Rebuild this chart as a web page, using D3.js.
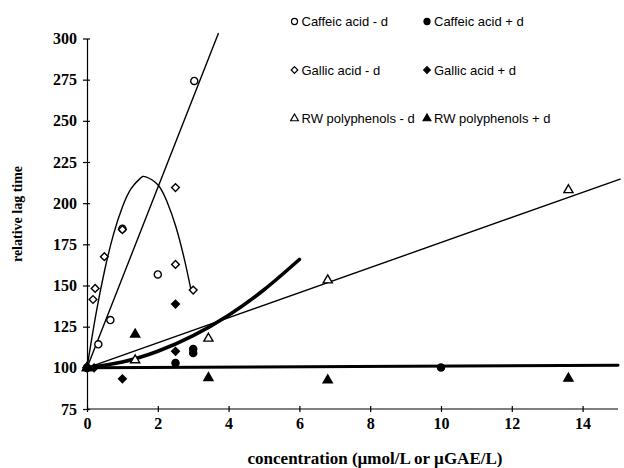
<!DOCTYPE html>
<html><head><meta charset="utf-8">
<script src="https://cdn.jsdelivr.net/npm/d3@7"></script>
<style>body{margin:0;background:#fff}svg{display:block}</style>
</head><body><svg id="c" width="624" height="468"></svg>
<script>
// ---- data ----
const xTicks = [0, 2, 4, 6, 8, 10, 12, 14];
const yTicks = [75, 100, 125, 150, 175, 200, 225, 250, 275, 300];

const caffeicMinusX = [0, 0.32, 0.66, 1.0, 2.0, 3.03];
const caffeicMinusY = [100, 114.3, 129, 184.5, 156.7, 274.2];
const caffeicPlusX = [0, 2.5, 3.0, 3.0, 10];
const caffeicPlusY = [100, 103, 109, 111.5, 100.2];
const gallicMinusX = [0, 0.17, 0.23, 0.49, 1.0, 2.5, 2.5, 3.0];
const gallicMinusY = [100, 141.5, 148.2, 167.5, 184, 209.5, 162.8, 147.2];
const gallicPlusX = [0, 0.2, 1.0, 2.5, 2.5];
const gallicPlusY = [100, 100, 93.3, 110, 138.7];
const rwMinusX = [0, 1.36, 3.43, 6.8, 13.6];
const rwMinusY = [100, 104.7, 117.8, 153.2, 208];
const rwPlusX = [0, 1.36, 3.43, 6.8, 13.6];
const rwPlusY = [100, 120.3, 93.9, 92.5, 93.5];

// fitted curves
const caffeicFitX = [0, 3.71];
const caffeicFitY = [100, 303];
const gallicFitX = [0, 0.25, 0.5, 0.75, 1.0, 1.25, 1.5, 1.66, 2.0, 2.25, 2.5, 2.75, 2.94];
const gallicFitY = [100, 132.3, 159.4, 181.2, 197.7, 209, 215, 216, 211.2, 201.4, 186.4, 166, 147.1];
const thickFitX = [0, 1, 2, 3, 4, 5, 6];
const thickFitY = [100, 103.6, 110.1, 119.6, 132, 147.4, 165.8];
const rwFitX = [0, 15.06];
const rwFitY = [100, 214.6];
const flatFitX = [0, 15];
const flatFitY = [100, 101.5];

const legendLabels = ["Caffeic acid - d", "Caffeic acid + d", "Gallic acid - d", "Gallic acid + d", "RW polyphenols - d", "RW polyphenols + d"];

// ---- drawing ----
const svg = d3.select("#c");
const x = d3.scaleLinear().domain([0, 15]).range([87, 618]);
const y = d3.scaleLinear().domain([75, 300]).range([409, 38.5]);
const serif = "'Liberation Serif','Times New Roman',serif";
const sans = "'Liberation Sans',Arial,sans-serif";

// axes
const xAxis = svg.append("g").attr("transform", `translate(0,${y(75)})`)
  .call(d3.axisBottom(x).tickValues(xTicks).tickSize(3).tickSizeOuter(0).tickFormat(d3.format("d")));
xAxis.selectAll(".tick line").attr("y1", -3).attr("y2", 3);
xAxis.select(".domain").attr("d", `M${x(0)},0H${x(15)}`);
const yAxis = svg.append("g").attr("transform", `translate(${x(0)},0)`)
  .call(d3.axisLeft(y).tickValues(yTicks).tickSize(4).tickSizeOuter(0).tickFormat(d3.format("d")));
yAxis.selectAll(".tick line").attr("x1", 3).attr("x2", -4);
[xAxis, yAxis].forEach(a => {
  a.selectAll(".domain,.tick line").attr("stroke", "#000").attr("stroke-width", 1.2);
  a.selectAll("text").attr("font-family", serif).attr("font-weight", "bold").attr("font-size", 16).attr("fill", "#000");
});
xAxis.selectAll("text").attr("y", 9);
yAxis.selectAll("text").attr("x", -10);

svg.append("text").attr("transform", `translate(22,214) rotate(-90)`).attr("text-anchor", "middle")
  .attr("font-family", serif).attr("font-weight", "bold").attr("font-size", 14).text("relative lag time");
svg.append("text").attr("x", 375).attr("y", 464).attr("text-anchor", "middle")
  .attr("font-family", serif).attr("font-weight", "bold").attr("font-size", 17).text("concentration (\u00b5mol/L or \u00b5GAE/L)");

// fit lines
const line = d3.line().x(d => x(d[0])).y(d => y(d[1]));
function fit(xs, ys, w, curve) {
  svg.append("path").datum(xs.map((v, i) => [v, ys[i]]))
    .attr("d", line.curve(curve || d3.curveLinear))
    .attr("fill", "none").attr("stroke", "#000").attr("stroke-width", w).attr("stroke-linecap", "round");
}
fit(flatFitX, flatFitY, 3);
fit(rwFitX, rwFitY, 1.4);
fit(thickFitX, thickFitY, 3.6, d3.curveNatural);
fit(caffeicFitX, caffeicFitY, 1.4);
fit(gallicFitX, gallicFitY, 1.4, d3.curveNatural);

// markers
const shapes = {
  circle: d3.symbol().type(d3.symbolCircle).size(40),
  diamond: d3.symbol().type(d3.symbolSquare).size(30),
  triangle: d3.symbol().type(d3.symbolTriangle).size(36)
};
function marker(g, shape, filled) {
  g.append("path").attr("d", shapes[shape]())
    .attr("transform", shape === "diamond" ? "rotate(45)" : null)
    .attr("fill", filled ? "#000" : "#fff").attr("stroke", "#000").attr("stroke-width", 1.4);
}
function series(xs, ys, shape, filled) {
  xs.forEach((v, i) => {
    const g = svg.append("g").attr("transform", `translate(${x(v)},${y(ys[i])})`);
    marker(g, shape, filled);
  });
}
series(caffeicMinusX, caffeicMinusY, "circle", false);
series(gallicMinusX, gallicMinusY, "diamond", false);
series(rwMinusX, rwMinusY, "triangle", false);
series(caffeicPlusX, caffeicPlusY, "circle", true);
series(gallicPlusX, gallicPlusY, "diamond", true);
series(rwPlusX, rwPlusY, "triangle", true);

// legend
const legShapes = ["circle", "circle", "diamond", "diamond", "triangle", "triangle"];
const legRowY = [21.5, 70, 118.5];
legendLabels.forEach((lab, i) => {
  const col = i % 2, row = Math.floor(i / 2);
  const lx = col === 0 ? 294.5 : 427, ly = legRowY[row];
  const g = svg.append("g").attr("transform", `translate(${lx},${ly}) scale(0.85)`);
  marker(g, legShapes[i], col === 1);
  svg.append("text").attr("x", lx + 7).attr("y", ly + 4.6).attr("font-family", sans).attr("font-size", 13)
    .attr("fill", "#000").text(lab);
});
</script></body></html>
